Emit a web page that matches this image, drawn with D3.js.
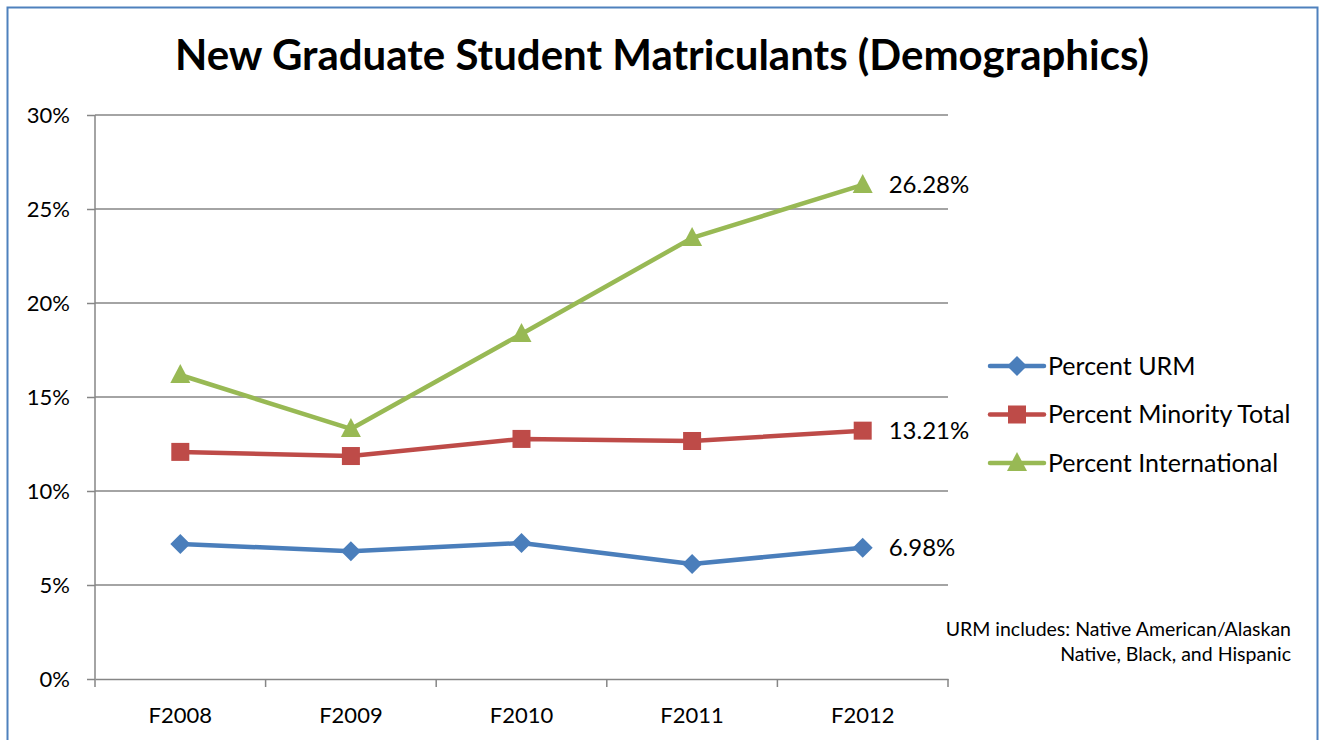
<!DOCTYPE html>
<html>
<head>
<meta charset="utf-8">
<script src="https://cdn.jsdelivr.net/npm/d3@7"></script>
<style>
  body { margin: 0; background: #fff; }
  text { font-family: Lato, "Open Sans", sans-serif; fill: #000; }
</style>
</head>
<body>
<div id="chart"></div>
<script>
// data
const categories = ["F2008", "F2009", "F2010", "F2011", "F2012"];
const urm = [7.18, 6.80, 7.23, 6.12, 6.98];
const minority = [12.08, 11.86, 12.77, 12.66, 13.21];
const international = [16.17, 13.30, 18.35, 23.46, 26.28];
const yTicks = [0, 5, 10, 15, 20, 25, 30];

const series = [
  { name: "Percent URM", values: urm, color: "#4a7ebb", shape: "diamond" },
  { name: "Percent Minority Total", values: minority, color: "#be4b48", shape: "square" },
  { name: "Percent International", values: international, color: "#98b954", shape: "triangle" }
];

const W = 1321, H = 740;
const svg = d3.select("#chart").append("svg")
  .attr("width", W).attr("height", H);

// outer border
svg.append("rect")
  .attr("x", 7.5).attr("y", 7.5).attr("width", 1310).attr("height", 745)
  .attr("fill", "none").attr("stroke", "#4f81bd").attr("stroke-width", 2);

// title
svg.append("text")
  .attr("x", 662).attr("y", 70)
  .attr("text-anchor", "middle")
  .style("font-size", "42px").style("font-weight", "bold")
  .text("New Graduate Student Matriculants (Demographics)");

const plotL = 95, plotR = 948, plotT = 115, plotB = 679;

const x = d3.scaleBand().domain(categories).range([plotL, plotR]);
const y = d3.scaleLinear().domain([0, 30]).range([plotB, plotT]);

// gridlines + y axis
const yAxis = svg.append("g")
  .attr("transform", "translate(" + plotL + ",0)")
  .call(d3.axisLeft(y).tickValues(yTicks).tickSize(8).tickFormat(d => d + "%"));
yAxis.select(".domain").remove();
yAxis.selectAll("line").attr("stroke", "#868686").attr("stroke-width", 1.5);
yAxis.selectAll("text").attr("x", -25).attr("dy", "0.35em").style("font-size", "22px");

svg.append("g").selectAll("line")
  .data(yTicks.filter(d => d > 0))
  .join("line")
  .attr("x1", plotL).attr("x2", plotR)
  .attr("y1", d => y(d)).attr("y2", d => y(d))
  .attr("stroke", "#868686").attr("stroke-width", 1.5);

svg.append("line")
  .attr("x1", plotL).attr("x2", plotL).attr("y1", plotT).attr("y2", plotB)
  .attr("stroke", "#868686").attr("stroke-width", 1.5);

// x axis
const xAxis = svg.append("g")
  .attr("transform", "translate(0," + plotB + ")")
  .call(d3.axisBottom(x).tickSize(0));
xAxis.select(".domain").attr("stroke", "#868686").attr("stroke-width", 1.5);
xAxis.selectAll("text").attr("y", 36).attr("dy", "0.35em").style("font-size", "22px");

const edges = categories.map(c => x(c)).concat([plotR]);
svg.append("g").selectAll("line")
  .data(edges)
  .join("line")
  .attr("x1", d => d).attr("x2", d => d)
  .attr("y1", plotB).attr("y2", plotB + 8)
  .attr("stroke", "#868686").attr("stroke-width", 1.5);

const cx = c => x(c) + x.bandwidth() / 2;

function marker(g, shape, color) {
  if (shape === "diamond") {
    g.append("path").attr("d", "M0,-10L10,0L0,10L-10,0Z").attr("fill", color);
  } else if (shape === "square") {
    g.append("rect").attr("x", -9).attr("y", -9).attr("width", 18).attr("height", 18).attr("fill", color);
  } else {
    g.append("path").attr("d", "M0,-11L10,8L-10,8Z").attr("fill", color);
  }
}

const line = d3.line().x((d, i) => cx(categories[i])).y(d => y(d));

series.forEach(s => {
  svg.append("path")
    .attr("d", line(s.values))
    .attr("fill", "none")
    .attr("stroke", s.color)
    .attr("stroke-width", 4.5)
    .attr("stroke-linejoin", "round");
  s.values.forEach((v, i) => {
    const g = svg.append("g").attr("transform", "translate(" + cx(categories[i]) + "," + y(v) + ")");
    marker(g, s.shape, s.color);
  });
  // last value label
  const last = s.values[s.values.length - 1];
  svg.append("text")
    .attr("x", cx(categories[categories.length - 1]) + 26)
    .attr("y", y(last))
    .attr("dy", "0.35em")
    .style("font-size", "24px")
    .text(last.toFixed(2) + "%");
});

// legend
const legend = svg.append("g");
series.forEach((s, i) => {
  const ly = 366 + i * 48.5;
  legend.append("line")
    .attr("x1", 990).attr("x2", 1044).attr("y1", ly).attr("y2", ly)
    .attr("stroke", s.color).attr("stroke-width", 4.5).attr("stroke-linecap", "round");
  const g = legend.append("g").attr("transform", "translate(1017," + ly + ")");
  marker(g, s.shape, s.color);
  legend.append("text")
    .attr("x", 1048).attr("y", ly).attr("dy", "0.35em")
    .style("font-size", "25px")
    .text(s.name);
});

// note
svg.append("text")
  .attr("x", 1291).attr("y", 636).attr("text-anchor", "end")
  .style("font-size", "19.5px")
  .text("URM includes: Native American/Alaskan");
svg.append("text")
  .attr("x", 1291).attr("y", 661).attr("text-anchor", "end")
  .style("font-size", "19.5px")
  .text("Native, Black, and Hispanic");
</script>
</body>
</html>
